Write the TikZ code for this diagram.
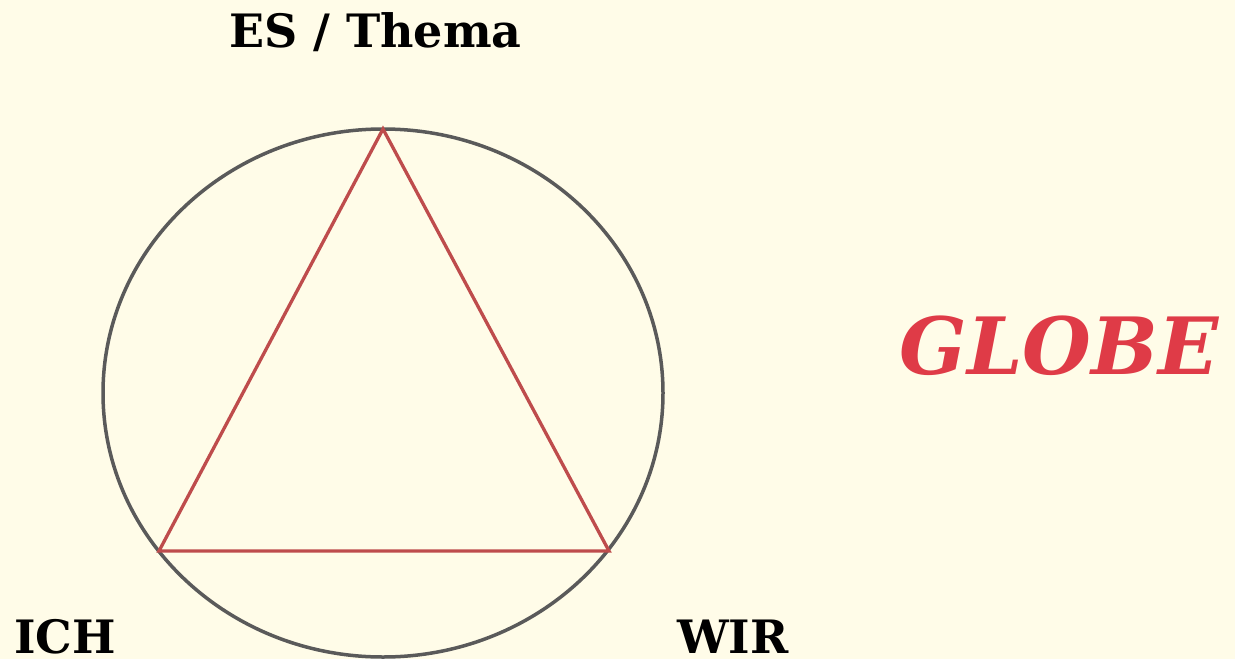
\documentclass[tikz,border=0pt]{standalone}
\usepackage{fontspec}
\setmainfont{DejaVu Serif}
\definecolor{bgcream}{RGB}{255,252,232}
\definecolor{ringgrey}{RGB}{90,90,90}
\definecolor{trired}{RGB}{190,76,76}
\definecolor{globered}{RGB}{223,59,71}
\begin{document}
\begin{tikzpicture}[x=1pt,y=-1pt,
  lbl/.style={inner sep=0pt,anchor=base,font=\fontsize{46}{50}\selectfont\bfseries,text=black},
  globelbl/.style={inner sep=0pt,anchor=base,font=\fontsize{79}{84}\selectfont\bfseries\itshape,text=globered}]
\fill[bgcream] (0,0) rectangle (1235,659);
\useasboundingbox (0,0) rectangle (1235,659);
\draw[ringgrey,line width=3.5pt] (383,393) ellipse [x radius=280,y radius=264];
\coordinate (top) at (383,129);
\coordinate (bl) at (159,551);
\coordinate (br) at (609,551);
\draw[trired,line width=3.3pt,line join=miter] (top) -- (bl) -- (br) -- cycle;
\node[lbl] (es) at (375.5,47) {ES / Thema};
\node[lbl] (ich) at (65,653) {ICH};
\node[lbl] (wir) at (733,653) {WIR};
\node[globelbl] (globe) at (1059,374) {GLOBE};
\end{tikzpicture}
\end{document}
